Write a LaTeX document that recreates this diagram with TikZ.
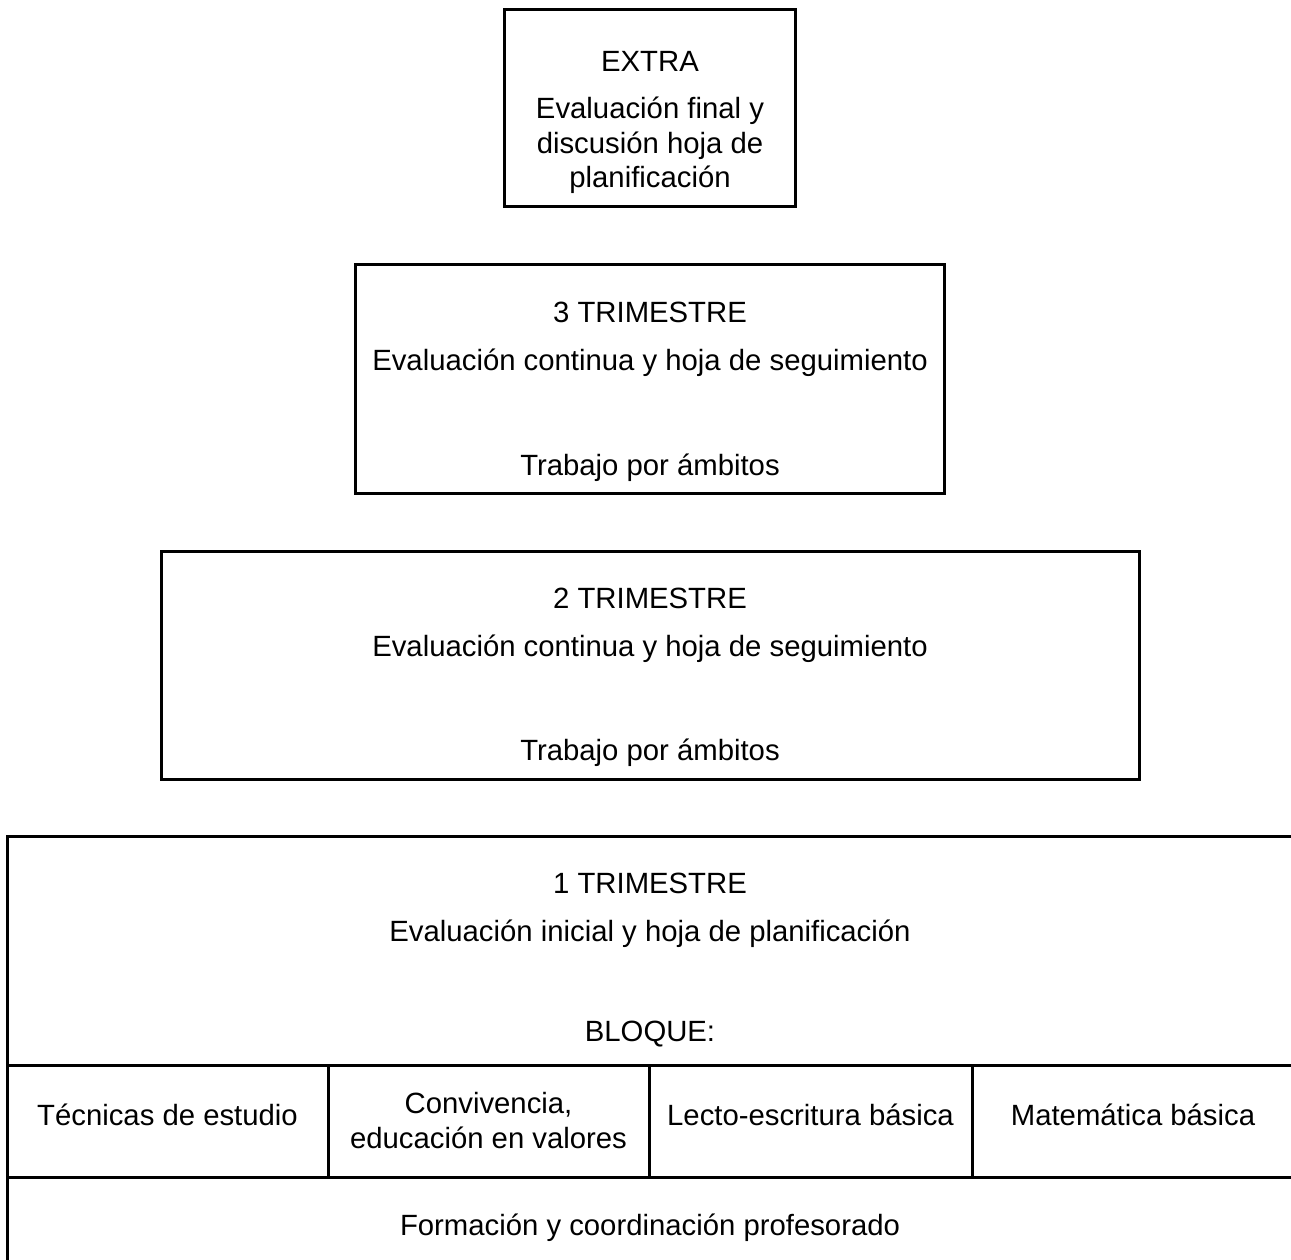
\documentclass[tikz,border=0pt]{standalone}
\usepackage{fontspec}
\setmainfont{Liberation Sans}
\begin{document}
\begin{tikzpicture}[x=1pt,y=-1pt,
  box/.style={draw=black,line width=3pt},
  txt/.style={anchor=base,inner sep=0pt,align=center,font=\fontsize{29.3}{34.5}\selectfont}]
\useasboundingbox (0,0) rectangle (1291,1260);
% boxes
\draw[box] (504,10) rectangle (795,207);
\draw[box] (355,265) rectangle (944,493);
\draw[box] (161,551) rectangle (1139,779);
\draw[box] (7,836) rectangle (1294,1300);
\draw[box] (7,1065) -- (1294,1065);
\draw[box] (7,1177) -- (1294,1177);
\draw[box] (328,1065) -- (328,1177);
\draw[box] (649,1065) -- (649,1177);
\draw[box] (972,1065) -- (972,1177);
% texts
\node[txt] (ex1) at (650,72) {EXTRA};
\node[txt] (ex2) at (650,188) {Evaluación final y\\discusión hoja de\\planificación};
\node[txt] (t31) at (650,322) {3 TRIMESTRE};
\node[txt] (t32) at (650,370) {Evaluación continua y hoja de seguimiento};
\node[txt] (t33) at (650,475) {Trabajo por ámbitos};
\node[txt] (t21) at (650,608) {2 TRIMESTRE};
\node[txt] (t22) at (650,656) {Evaluación continua y hoja de seguimiento};
\node[txt] (t23) at (650,760) {Trabajo por ámbitos};
\node[txt] (t11) at (650,893) {1 TRIMESTRE};
\node[txt] (t12) at (650,941) {Evaluación inicial y hoja de planificación};
\node[txt] (t13) at (650,1041) {BLOQUE:};
\node[txt] (c1) at (167.5,1125) {Técnicas de estudio};
\node[txt] (c2) at (488.5,1148) {Convivencia,\\educación en valores};
\node[txt] (c3) at (810.5,1125) {Lecto-escritura básica};
\node[txt] (c4) at (1133,1125) {Matemática básica};
\node[txt] (f1) at (650,1235) {Formación y coordinación profesorado};
\end{tikzpicture}
\end{document}
